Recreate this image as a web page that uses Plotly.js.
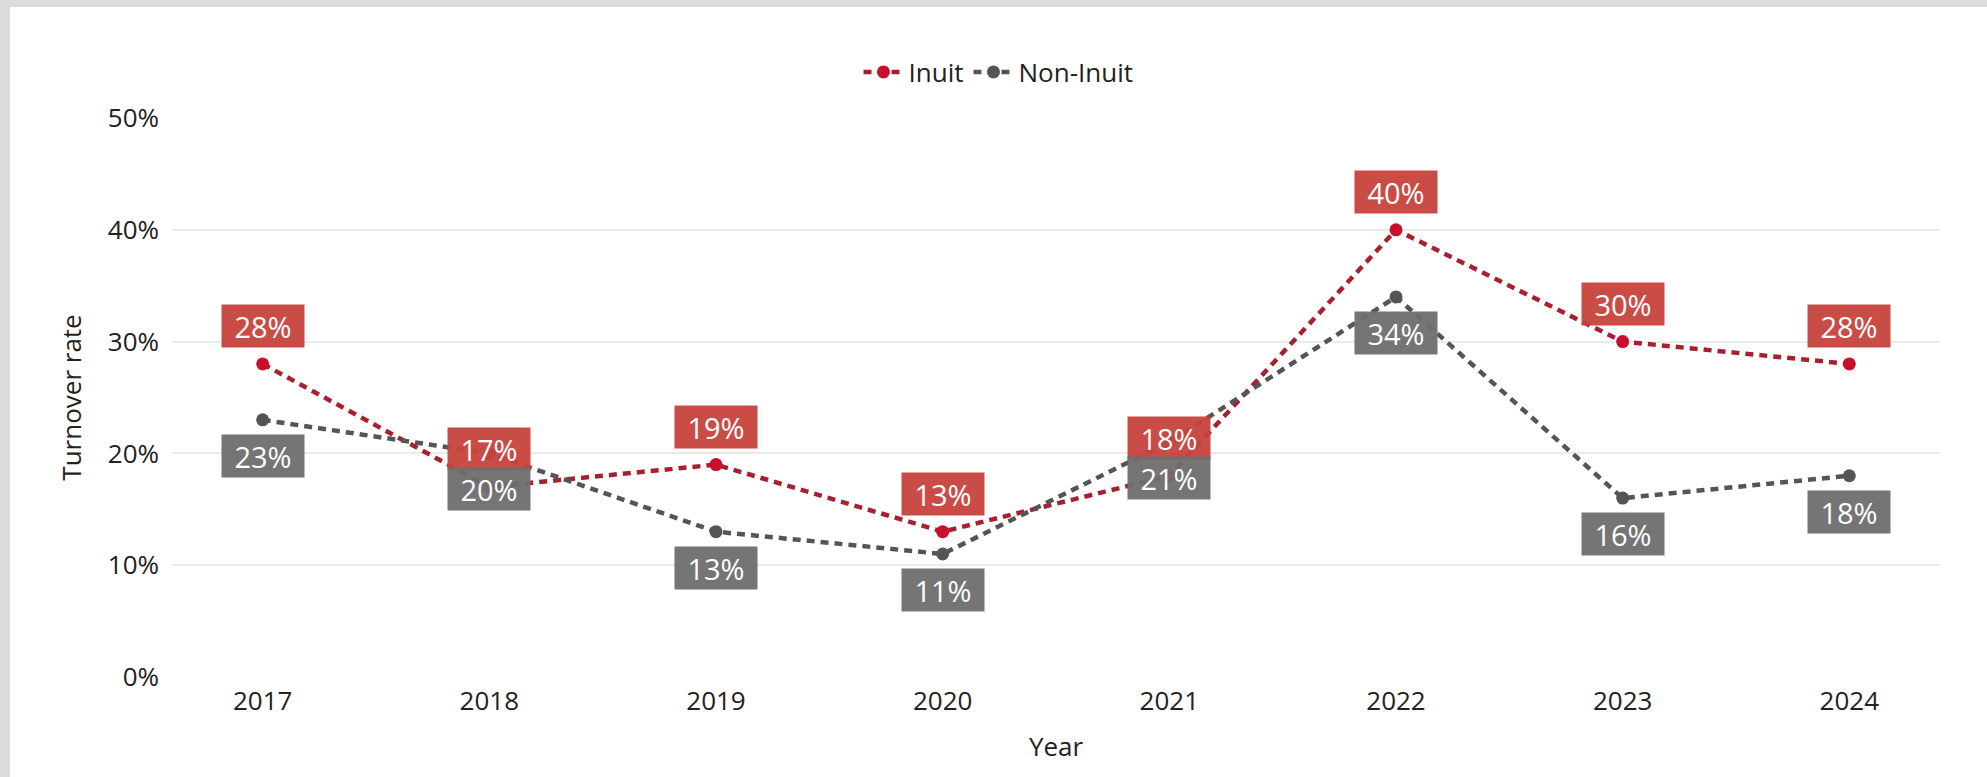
<!DOCTYPE html>
<html>
<head>
<meta charset="utf-8">
<script src="https://cdn.plot.ly/plotly-3.0.1.min.js"></script>
<style>
  html, body { margin: 0; padding: 0; background: #ffffff; width: 100%; height: 100%; overflow: hidden; scrollbar-width: none; }
  ::-webkit-scrollbar { display: none; width: 0; height: 0; }
  #bandTop { position: fixed; left: 0; top: 0; right: 0; height: 7px; background: #dcdcdc; }
  #bandLeft { position: fixed; left: 0; top: 0; bottom: 0; width: 10px; background: #dcdcdc; }
  #chart { position: fixed; left: 10px; top: 7px; width: 1977px; height: 770px; background: #ffffff; }
</style>
</head>
<body>
<div id="bandTop"></div>
<div id="bandLeft"></div>
<div id="chart"></div>
<script>
const years = [2017, 2018, 2019, 2020, 2021, 2022, 2023, 2024];
const inuit = [28, 17, 19, 13, 18, 40, 30, 28];
const nonInuit = [23, 20, 13, 11, 21, 34, 16, 18];
const yTickVals = [0, 10, 20, 30, 40, 50];
const yTickText = ['0%', '10%', '20%', '30%', '40%', '50%'];
const seriesNames = ['Inuit', 'Non-Inuit'];

const FONT = 'Open Sans, Noto Sans, sans-serif';
const redLine = '#a8202f', redMarker = '#c8102e', redBox = '#c8433e';
const grayLine = '#555555', grayMarker = '#555555', grayBox = '#6e6e6e';

const traces = [
  {
    x: years, y: inuit, name: seriesNames[0], type: 'scatter', mode: 'lines+markers',
    line: { color: redLine, width: 4.5, dash: '8px,6px' },
    marker: { color: redMarker, size: 13 },
    hoverinfo: 'skip'
  },
  {
    x: years, y: nonInuit, name: seriesNames[1], type: 'scatter', mode: 'lines+markers',
    line: { color: grayLine, width: 4.5, dash: '8px,6px' },
    marker: { color: grayMarker, size: 13 },
    hoverinfo: 'skip'
  }
];

const annotations = [];
years.forEach((yr, i) => {
  annotations.push({
    x: yr, y: inuit[i], xref: 'x', yref: 'y', showarrow: false,
    text: inuit[i] + '%', yshift: 38,
    font: { family: FONT, size: 29, color: '#ffffff' },
    bgcolor: redBox, opacity: 0.95, width: 80, height: 40, borderpad: 1
  });
  annotations.push({
    x: yr, y: nonInuit[i], xref: 'x', yref: 'y', showarrow: false,
    text: nonInuit[i] + '%', yshift: -36,
    font: { family: FONT, size: 29, color: '#ffffff' },
    bgcolor: grayBox, opacity: 0.95, width: 80, height: 40, borderpad: 1
  });
});

const layout = {
  width: 1977, height: 770,
  paper_bgcolor: '#ffffff', plot_bgcolor: '#ffffff',
  margin: { l: 162, r: 47, t: 111, b: 100 },
  font: { family: FONT, size: 26, color: '#222222' },
  showlegend: true,
  legend: {
    orientation: 'h', xref: 'container', yref: 'container',
    x: 0.5, xanchor: 'center', y: 1 - 65 / 770, yanchor: 'middle',
    font: { family: FONT, size: 26, color: '#222222' },
    itemwidth: 40, tracegroupgap: 0
  },
  xaxis: {
    range: [2016.6, 2024.4], tickvals: years, ticktext: years.map(String),
    showgrid: false, zeroline: false, showline: false, ticks: '',
    ticklabelstandoff: 6,
    tickfont: { family: FONT, size: 26, color: '#222222' },
    title: { text: 'Year', font: { family: FONT, size: 26, color: '#222222' }, standoff: 20 }
  },
  yaxis: {
    range: [0, 50], tickvals: yTickVals, ticktext: yTickText,
    showgrid: true, gridcolor: '#ebebeb', gridwidth: 2,
    zeroline: false, showline: false, ticks: '',
    ticklabelstandoff: 12,
    tickfont: { family: FONT, size: 26, color: '#222222' },
    title: { text: 'Turnover rate', font: { family: FONT, size: 26, color: '#222222' }, standoff: 18 }
  },
  annotations: annotations
};

Plotly.newPlot('chart', traces, layout, { displayModeBar: false, staticPlot: true });
</script>
</body>
</html>
